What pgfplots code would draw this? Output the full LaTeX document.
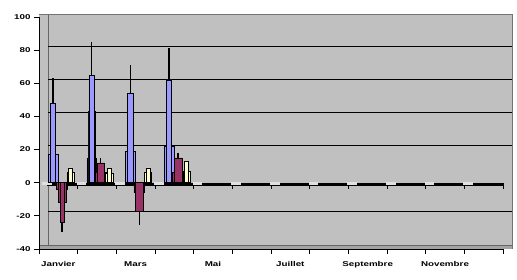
\documentclass[border=0pt]{standalone}
\usepackage{pgfplots}
\pgfplotsset{compat=1.18}
\usepackage{fontspec}
\setmainfont{Liberation Sans}
\newfontfamily\pxfont{Liberation Sans}[FakeStretch=1.4]
\definecolor{bg}{HTML}{C0C0C0}
\definecolor{bblue}{HTML}{9999FF}
\definecolor{bmaroon}{HTML}{993366}
\definecolor{byellow}{HTML}{FFFFCC}
\definecolor{dash}{HTML}{E0E0E0}
\begin{document}
\begin{tikzpicture}
\fill[bg] (0,0) rectangle (473pt,235pt);
\fill[bg!85!black] (0,0) rectangle (473pt,4pt);
\draw[gray!80!black, line width=0.6pt] (9pt,4pt) -- (9pt,235pt);
\draw[gray!80!black, line width=0.6pt] (0,4pt) -- (473pt,4pt);
\draw[gray!90!black, line width=0.8pt] (0,235pt) -- (473pt,235pt) -- (473pt,0pt);
\begin{axis}[
  at={(0,0)}, anchor=south west,
  scale only axis, width=464pt, height=232pt,
  xmin=-0.5, xmax=11.5, ymin=-40, ymax=100,
  axis x line*=bottom, axis y line*=left,
  x axis line style={-, black, line width=0.8pt},
  y axis line style={-, black, line width=0.8pt},
  ytick={-40,-20,...,100},
  xtick={-0.5,0.5,...,11.5},
  xticklabels={,,,,,,,,,,,,},
  extra x ticks={0,2,4,6,8,10},
  extra x tick labels={Janvier,Mars,Mai,Juillet,Septembre,Novembre},
  extra x tick style={major tick length=0pt, xticklabel style={yshift=-9pt}},
  tick align=outside, major tick length=5pt,
  tick style={black, line width=0.8pt},
  ticklabel style={font=\pxfont\bfseries\fontsize{7}{8}\selectfont},
  /pgf/number format/assume math mode=true,
  clip=false,
  every axis plot/.append style={ybar, bar shift=0pt, draw=black, line width=0.6pt},
]
% back-wall grid lines
\pgfplotsinvokeforeach{-20,20,40,60,80}{
  \draw[black, line width=1pt] ([xshift=9pt,yshift=4pt]axis cs:-0.5,#1) -- ([xshift=9pt,yshift=4pt]axis cs:11.5,#1);
}
% zero band
\draw[black, line width=3.3pt] (axis cs:-0.29,-1) -- (axis cs:11.5,-1);
\pgfplotsinvokeforeach{0.5,1.5,2.5,3.5,4.5,5.5,6.5,7.5,8.5,9.5,10.5,11.5}{
  \draw[black, line width=0.8pt] (axis cs:#1,0) -- ([yshift=-6pt]axis cs:#1,0);
}
% floor dashes
\addplot[bar width=0.2, draw=dash, line width=1.8pt, fill=none]
  coordinates {(-0.29,-0.6) (0.6,-0.6) (1.6,-0.6) (2.6,-0.6) (3.6,-0.6) (4.6,-0.6) (5.6,-0.6) (6.6,-0.6) (7.6,-0.6) (8.6,-0.6) (9.6,-0.6) (10.6,-0.6)};
% blue series
\addplot[bar width=0.25, fill=bblue]
  coordinates {(-0.137,17) (0.863,15) (1.863,19) (2.863,22)};
\addplot[bar width=0.19, fill=bblue]
  coordinates {(0.863,43)};
\addplot[bar width=0.14, fill=bblue,
  error bars/.cd, y dir=plus, y explicit, error mark=none,
  error bar style={black, line width=1.3pt}]
  coordinates {(-0.137,48) +- (0,15) (0.863,65) +- (0,20) (1.863,54) +- (0,17) (2.863,62) +- (0,19)};
% maroon series
\addplot[bar width=0.28, fill=bmaroon]
  coordinates {(0.096,-4) (1.096,6) (2.096,-6) (3.096,6)};
\addplot[bar width=0.2, fill=bmaroon,
  error bars/.cd, y dir=both, y explicit, error mark=none,
  error bar style={black, line width=1.3pt}]
  coordinates {(0.096,-12) += (0,0) -= (0,0) (1.096,12) += (0,3) -= (0,0) (2.096,-17) += (0,0) -= (0,8.5) (3.096,15) += (0,3) -= (0,0)};
\addplot[bar width=0.1, fill=bmaroon,
  error bars/.cd, y dir=minus, y explicit, error mark=none,
  error bar style={black, line width=1.3pt}]
  coordinates {(0.096,-23.6) +- (0,6.4)};
% yellow series
\addplot[bar width=0.19, fill=byellow]
  coordinates {(0.32,6) (1.32,5.5) (2.32,6) (3.32,7)};
\addplot[bar width=0.1, fill=byellow]
  coordinates {(0.32,9) (1.32,8.5) (2.32,9) (3.32,13)};
\end{axis}
\pgfresetboundingbox
\path (-39pt,-30pt) rectangle (478pt,249pt);
\end{tikzpicture}
\end{document}
